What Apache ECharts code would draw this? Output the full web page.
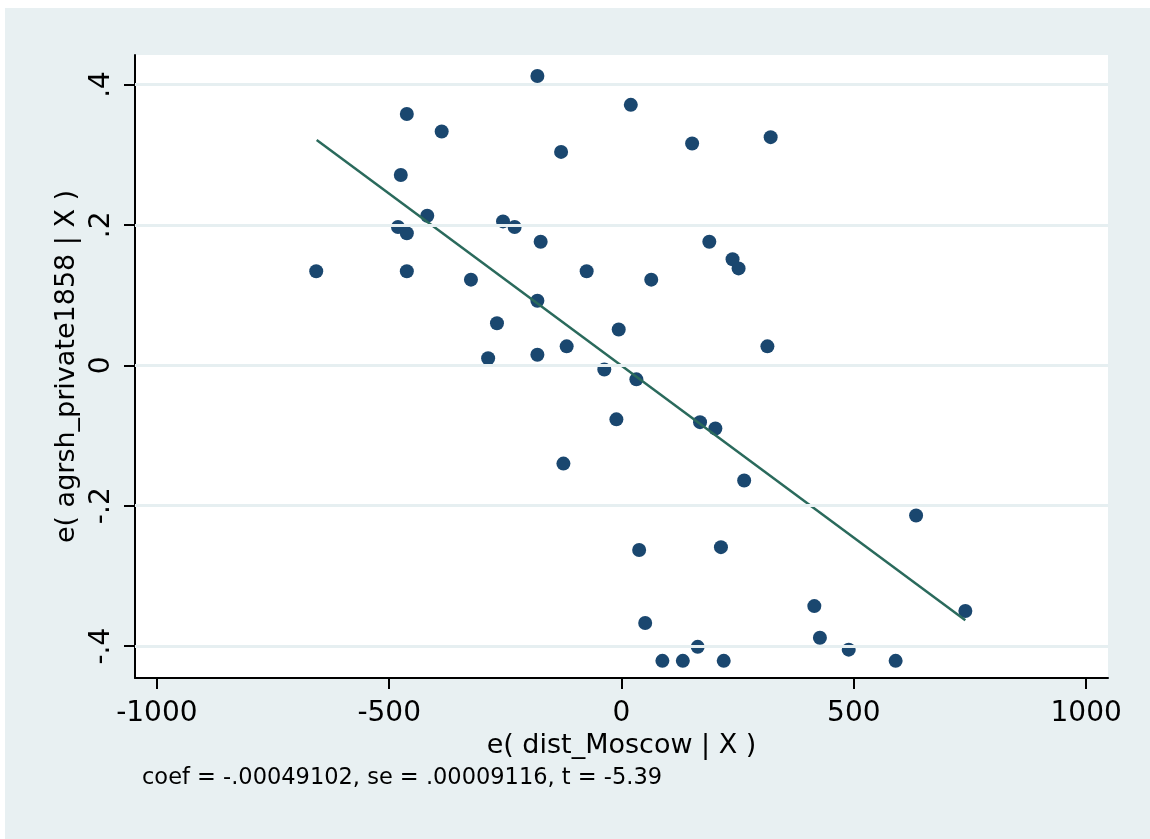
<!DOCTYPE html>
<html>
<head>
<meta charset="utf-8">
<title>avplot dist_Moscow</title>
<script src="https://cdn.jsdelivr.net/npm/echarts@6/dist/echarts.min.js"></script>
<style>
    body { margin: 0; background: #ffffff; }
    #bg { position: absolute; left: 5px; top: 8px; width: 1145px; height: 831px; background: #e8f0f2; }
    #main { position: absolute; left: 0; top: 0; width: 1150px; height: 839px; }
</style>
</head>
<body>
<div id="bg"></div>
<div id="main"></div>
<script>
// residuals of dist_Moscow (x) and agrsh_private1858 (y)
const residX = [-657, -462, -387, -475, -418, -481, -462, -462, -324, -268,
    -287, -255, -230, -181, -130, -174, -181, -181, -118, -75,
    -6, 20, 64, -37, 32, -11, -125, 169, 202, 264,
    38, 214, 51, 164, 88, 132, 220, 314, 152, 321,
    189, 239, 252, 634, 415, 427, 489, 590, 740]
const residY = [0.134, 0.358, 0.333, 0.271, 0.213, 0.197, 0.188, 0.134, 0.122, 0.060,
    0.010, 0.205, 0.197, 0.412, 0.304, 0.176, 0.092, 0.015, 0.027, 0.134,
    0.051, 0.371, 0.122, -0.006, -0.020, -0.077, -0.140, -0.081, -0.090, -0.164,
    -0.263, -0.259, -0.367, -0.401, -0.421, -0.421, -0.421, 0.027, 0.316, 0.325,
    0.176, 0.151, 0.138, -0.214, -0.343, -0.388, -0.405, -0.421, -0.350]

// fitted line ends
const fitX = [-656, 740]
const fitY = [0.321, -0.363]

const xTicks = [-1000, -500, 0, 500, 1000]
const yTicks = [-0.4, -0.2, 0, 0.2, 0.4]

const noteText = 'coef = -.00049102, se = .00009116, t = -5.39'

const font = 'DejaVu Sans'
const xMin = -1047, xMax = 1047
const yMin = -0.4454, yMax = 0.442

// plot area in pixels
const plot = { left: 135, top: 55, right: 1108, bottom: 678 }
const tickLen = 11

onload = () => {
    let myChart = echarts.init(document.getElementById('main'))
    let option

    let points = []
    residX.forEach((x, i) => {
        points.push([x, residY[i]])
    })
    let fitData = []
    fitX.forEach((x, i) => {
        fitData.push([x, fitY[i]])
    })

    // thin strips under / left of the plot whose split lines act as the outside ticks
    const pxPerX = (plot.right - plot.left) / (xMax - xMin)
    const pxPerY = (plot.bottom - plot.top) / (yMax - yMin)
    const xt0 = xTicks[0], xt1 = xTicks[xTicks.length - 1]
    const yt0 = yTicks[0], yt1 = yTicks[yTicks.length - 1]
    const xStrip = {
        left: plot.left + (xt0 - xMin) * pxPerX,
        right: 1150 - (plot.right - (xMax - xt1) * pxPerX),
        top: plot.bottom,
        height: tickLen,
        show: false
    }
    const yStrip = {
        left: plot.left - tickLen,
        width: tickLen,
        top: plot.top + (yMax - yt1) * pxPerY,
        bottom: 839 - (plot.bottom - (yt0 - yMin) * pxPerY),
        show: false
    }
    const tickSplit = { show: true, lineStyle: { color: '#000', width: 2, type: 'solid' } }
    const hidden = { show: false }

    option = {
        animation: false,
        grid: [
            {
                left: plot.left,
                top: plot.top,
                right: 1150 - plot.right,
                bottom: 839 - plot.bottom,
                show: true,
                backgroundColor: '#ffffff',
                borderWidth: 0
            },
            xStrip,
            yStrip
        ],
        xAxis: [
            {
                type: 'value',
                min: xMin,
                max: xMax,
                name: 'e( dist_Moscow | X )',
                nameLocation: 'middle',
                nameGap: 50,
                nameTextStyle: { fontSize: 27, color: '#000', fontFamily: font },
                axisLine: { show: true, onZero: false, lineStyle: { color: '#000', width: 2 } },
                axisTick: { show: false },
                axisLabel: {
                    customValues: xTicks,
                    fontSize: 28,
                    color: '#000',
                    margin: 22,
                    fontFamily: font,
                    formatter: v => String(v)
                },
                splitLine: { show: false }
            },
            {
                type: 'value',
                gridIndex: 1,
                min: xt0,
                max: xt1,
                interval: xTicks[1] - xTicks[0],
                axisLine: hidden,
                axisTick: hidden,
                axisLabel: hidden,
                splitLine: tickSplit
            },
            {
                type: 'value',
                gridIndex: 2,
                min: 0,
                max: 1,
                show: false
            }
        ],
        yAxis: [
            {
                type: 'value',
                min: yMin,
                max: yMax,
                name: 'e( agrsh_private1858 | X )',
                nameLocation: 'middle',
                nameGap: 49,
                nameTextStyle: { fontSize: 27, color: '#000', fontFamily: font },
                axisLine: { show: true, onZero: false, lineStyle: { color: '#000', width: 2 } },
                axisTick: { show: false },
                axisLabel: {
                    customValues: yTicks,
                    rotate: 90,
                    fontSize: 28,
                    color: '#000',
                    margin: 19,
                    fontFamily: font,
                    formatter: v => v === 0 ? '0' : String(v).replace('0.', '.')
                },
                splitLine: { show: false }
            },
            {
                type: 'value',
                gridIndex: 1,
                min: 0,
                max: 1,
                show: false
            },
            {
                type: 'value',
                gridIndex: 2,
                min: yt0,
                max: yt1,
                interval: yTicks[1] - yTicks[0],
                axisLine: hidden,
                axisTick: hidden,
                axisLabel: hidden,
                splitLine: tickSplit
            }
        ],
        graphic: [
            {
                type: 'text',
                left: 142,
                top: 767,
                style: { text: noteText, fontSize: 22.5, fill: '#000', fontFamily: font }
            }
        ],
        series: [
            {
                // horizontal grid lines
                type: 'line',
                data: [],
                z: 1,
                markLine: {
                    silent: true,
                    symbol: ['none', 'none'],
                    label: { show: false },
                    lineStyle: { color: '#e6eff1', width: 3, type: 'solid' },
                    data: yTicks.map(v => ({ yAxis: v }))
                }
            },
            {
                type: 'scatter',
                data: points,
                symbolSize: 14,
                z: 2,
                itemStyle: { color: '#1a476f', opacity: 1 }
            },
            {
                type: 'line',
                data: fitData,
                symbol: 'none',
                z: 3,
                lineStyle: { color: '#2a6a5c', width: 2.5 }
            }
        ]
    }

    option && myChart.setOption(option)
}
</script>
</body>
</html>
